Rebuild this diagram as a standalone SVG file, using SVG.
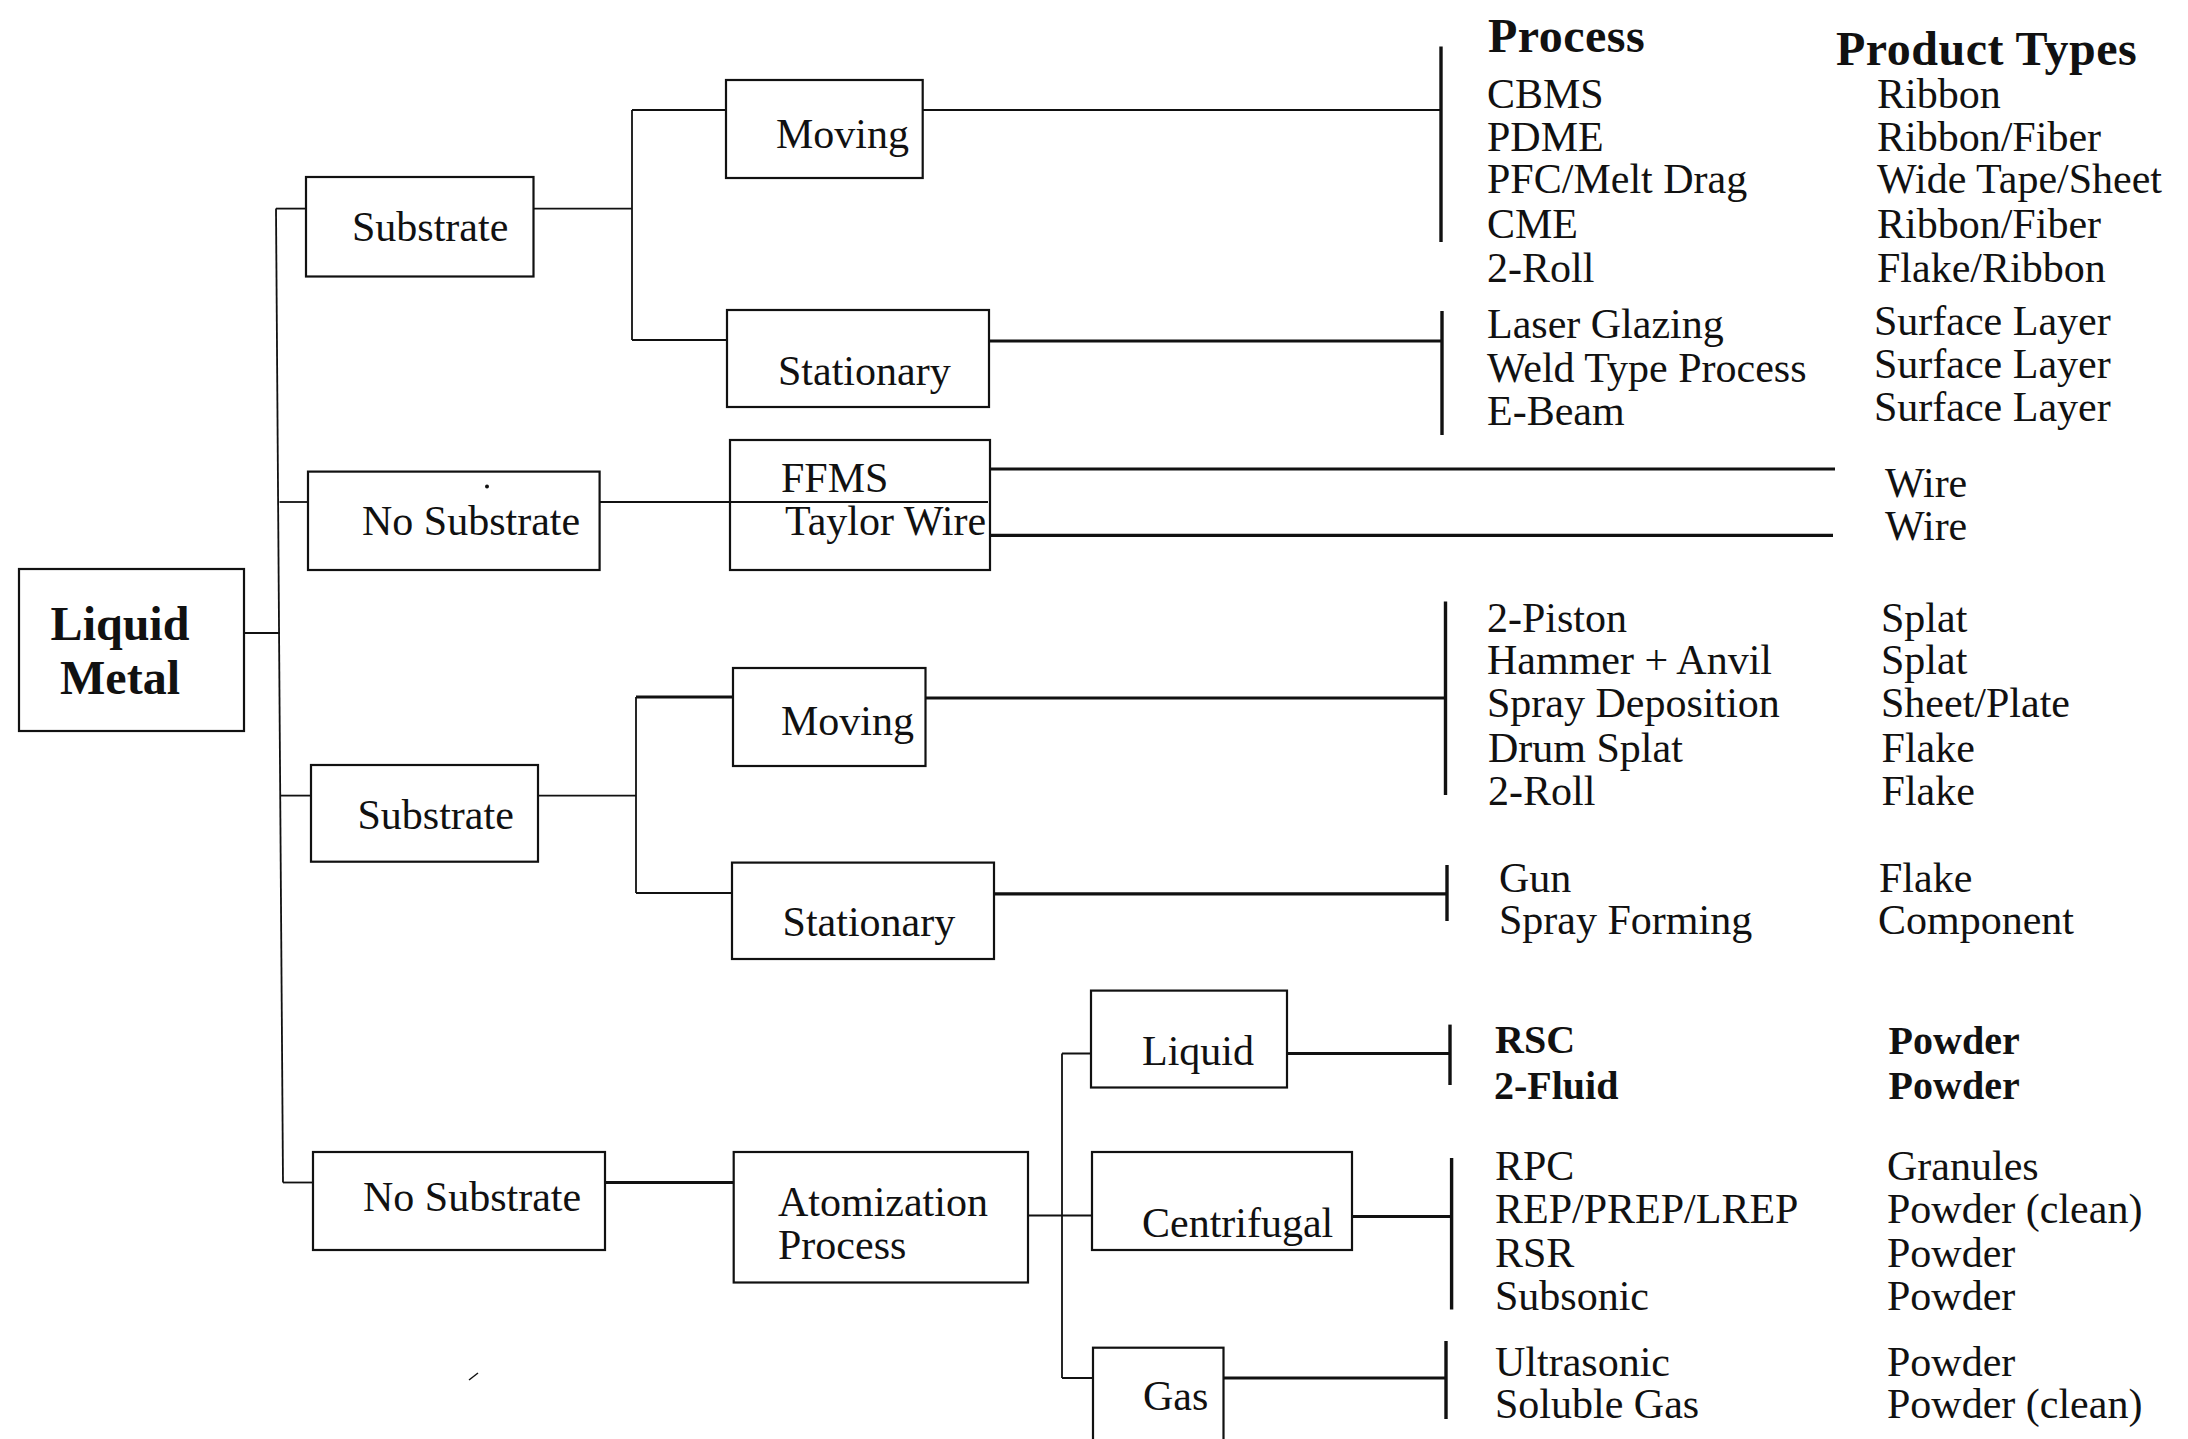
<svg xmlns="http://www.w3.org/2000/svg" width="2188" height="1439" viewBox="0 0 2188 1439">
<style>
.box{fill:none;stroke:#111;stroke-width:2.2}
.ln{fill:none;stroke:#111;stroke-width:1.8}
.thk{fill:none;stroke:#111;stroke-width:3.2}
.bar{fill:none;stroke:#111;stroke-width:3.4}
text{font-family:"Liberation Serif","Times New Roman",serif;fill:#111}
.lbl{font-size:42px}
.col{font-size:42px}
.hdr{font-size:48px;font-weight:bold;letter-spacing:0.5px}
.bold{font-size:40px;font-weight:bold}
.root{font-size:48px;font-weight:bold}
</style>
<rect width="2188" height="1439" fill="#fff"/>
<g id="connectors">
<path class="ln" d="M276,208.6 L283,1182.5"/>
<path class="ln" d="M276,208.6 H306"/>
<path class="ln" d="M279.5,502 H308"/>
<path class="ln" d="M244,633 H280"/>
<path class="ln" d="M281,795.6 H311"/>
<path class="ln" d="M283,1182.5 H313"/>
<path class="ln" d="M533.5,208.6 H632 M632,110 V340 M632,110 H726 M632,340 H727"/>
<path class="ln" d="M923,110 H1441"/>
<path class="bar" d="M1441,46.5 V242"/>
<path class="thk" d="M989,341 H1442"/>
<path class="bar" d="M1442,311 V435"/>
<path class="ln" d="M600,502 H988"/>
<path class="thk" d="M990,469 H1835"/>
<path class="thk" d="M990,535.4 H1833"/>
<path class="ln" d="M538,795.6 H636 M636,697 V893 M636,893 H732"/>
<path class="thk" d="M636,697 H733"/>
<path class="thk" d="M925.5,698 H1445.5"/>
<path class="bar" d="M1445.5,601.5 V795"/>
<path class="thk" d="M994,893.8 H1447"/>
<path class="bar" d="M1447,865 V921"/>
<path class="thk" d="M605,1182.5 H733.7"/>
<path class="ln" d="M1028,1215.5 H1092 M1062,1053.5 V1378 M1062,1053.5 H1091 M1062,1378 H1093"/>
<path class="thk" d="M1287,1053.5 H1450"/>
<path class="bar" d="M1450,1024.6 V1085"/>
<path class="thk" d="M1352,1216.5 H1451.6"/>
<path class="bar" d="M1451.6,1158 V1309.5"/>
<path class="thk" d="M1223.5,1378 H1446"/>
<path class="bar" d="M1446,1341 V1419"/>
</g>
<g id="liquid-metal">
<rect class="box" x="19" y="569" width="225" height="162"/>
<text class="root" x="120" y="640" text-anchor="middle">Liquid</text>
<text class="root" x="120" y="694" text-anchor="middle">Metal</text>
</g>
<g id="substrate-1">
<rect class="box" x="306" y="177" width="227.5" height="99.5"/>
<text class="lbl" x="352" y="241">Substrate</text>
</g>
<g id="moving-1">
<rect class="box" x="726" y="80" width="196.7" height="98"/>
<text class="lbl" x="776" y="148">Moving</text>
</g>
<g id="stationary-1">
<rect class="box" x="727" y="310" width="262" height="97"/>
<text class="lbl" x="778" y="384.5">Stationary</text>
</g>
<g id="no-substrate-1">
<rect class="box" x="308" y="471.6" width="291.6" height="98.4"/>
<text class="lbl" x="362" y="534.5">No Substrate</text>
</g>
<g id="ffms-taylor">
<rect class="box" x="730" y="440" width="260" height="130"/>
<text class="lbl" x="781" y="492">FFMS</text>
<text class="lbl" x="785" y="534.5">Taylor Wire</text>
</g>
<g id="substrate-2">
<rect class="box" x="311" y="765" width="227" height="96.7"/>
<text class="lbl" x="357.5" y="828.6">Substrate</text>
</g>
<g id="moving-2">
<rect class="box" x="733" y="668" width="192.5" height="98"/>
<text class="lbl" x="781" y="735">Moving</text>
</g>
<g id="stationary-2">
<rect class="box" x="732" y="862.6" width="262" height="96.4"/>
<text class="lbl" x="782.6" y="935.7">Stationary</text>
</g>
<g id="no-substrate-2">
<rect class="box" x="313" y="1152" width="292" height="98"/>
<text class="lbl" x="363" y="1211">No Substrate</text>
</g>
<g id="atomization">
<rect class="box" x="733.7" y="1152" width="294.3" height="130.5"/>
<text class="lbl" x="778" y="1215.5">Atomization</text>
<text class="lbl" x="778" y="1259">Process</text>
</g>
<g id="liquid">
<rect class="box" x="1091" y="990.6" width="196" height="96.9"/>
<text class="lbl" x="1142" y="1065">Liquid</text>
</g>
<g id="centrifugal">
<rect class="box" x="1092" y="1152" width="260" height="98"/>
<text class="lbl" x="1142" y="1236.5">Centrifugal</text>
</g>
<g id="gas">
<rect class="box" x="1093" y="1347.7" width="130.5" height="100"/>
<text class="lbl" x="1143" y="1409.6">Gas</text>
</g>
<g id="process-column">
<text class="hdr" x="1488" y="52">Process</text>
<text class="col" x="1487" y="108">CBMS</text>
<text class="col" x="1487" y="151">PDME</text>
<text class="col" x="1487" y="193">PFC/Melt Drag</text>
<text class="col" x="1487" y="238">CME</text>
<text class="col" x="1487" y="281.6">2-Roll</text>
<text class="col" x="1487" y="337.5">Laser Glazing</text>
<text class="col" x="1487" y="381.7">Weld Type Process</text>
<text class="col" x="1487" y="424.6">E-Beam</text>
<text class="col" x="1487" y="632">2-Piston</text>
<text class="col" x="1487" y="673.6">Hammer + Anvil</text>
<text class="col" x="1487" y="717">Spray Deposition</text>
<text class="col" x="1488" y="761.6">Drum Splat</text>
<text class="col" x="1488" y="805.4">2-Roll</text>
<text class="col" x="1499" y="891.5">Gun</text>
<text class="col" x="1499" y="934">Spray Forming</text>
<text class="bold" x="1495" y="1052.6">RSC</text>
<text class="bold" x="1494" y="1099">2-Fluid</text>
<text class="col" x="1495" y="1180">RPC</text>
<text class="col" x="1495" y="1223.4">REP/PREP/LREP</text>
<text class="col" x="1495" y="1266.7">RSR</text>
<text class="col" x="1495" y="1309.6">Subsonic</text>
<text class="col" x="1495" y="1375.7">Ultrasonic</text>
<text class="col" x="1495" y="1417.6">Soluble Gas</text>
</g>
<g id="product-column">
<text class="hdr" x="1836" y="65">Product Types</text>
<text class="col" x="1877" y="108">Ribbon</text>
<text class="col" x="1877" y="151">Ribbon/Fiber</text>
<text class="col" x="1877" y="193">Wide Tape/Sheet</text>
<text class="col" x="1877" y="238">Ribbon/Fiber</text>
<text class="col" x="1877" y="281.6">Flake/Ribbon</text>
<text class="col" x="1874" y="335">Surface Layer</text>
<text class="col" x="1874" y="378">Surface Layer</text>
<text class="col" x="1874" y="421">Surface Layer</text>
<text class="col" x="1885" y="497">Wire</text>
<text class="col" x="1885" y="540">Wire</text>
<text class="col" x="1881" y="632">Splat</text>
<text class="col" x="1881" y="673.6">Splat</text>
<text class="col" x="1881" y="717">Sheet/Plate</text>
<text class="col" x="1881.6" y="761.6">Flake</text>
<text class="col" x="1881.6" y="805.4">Flake</text>
<text class="col" x="1879" y="891.5">Flake</text>
<text class="col" x="1878" y="934">Component</text>
<text class="bold" x="1888.6" y="1053.5">Powder</text>
<text class="bold" x="1888.6" y="1099">Powder</text>
<text class="col" x="1887" y="1180">Granules</text>
<text class="col" x="1887" y="1223.4">Powder (clean)</text>
<text class="col" x="1887" y="1266.7">Powder</text>
<text class="col" x="1887" y="1309.6">Powder</text>
<text class="col" x="1887" y="1375.7">Powder</text>
<text class="col" x="1887" y="1417.6">Powder (clean)</text>
</g>
<g id="specks" fill="#111">
<circle cx="487" cy="486.5" r="2"/>
<path d="M469,1380 L478,1373" stroke="#111" stroke-width="1.5" fill="none"/>
</g>
</svg>
